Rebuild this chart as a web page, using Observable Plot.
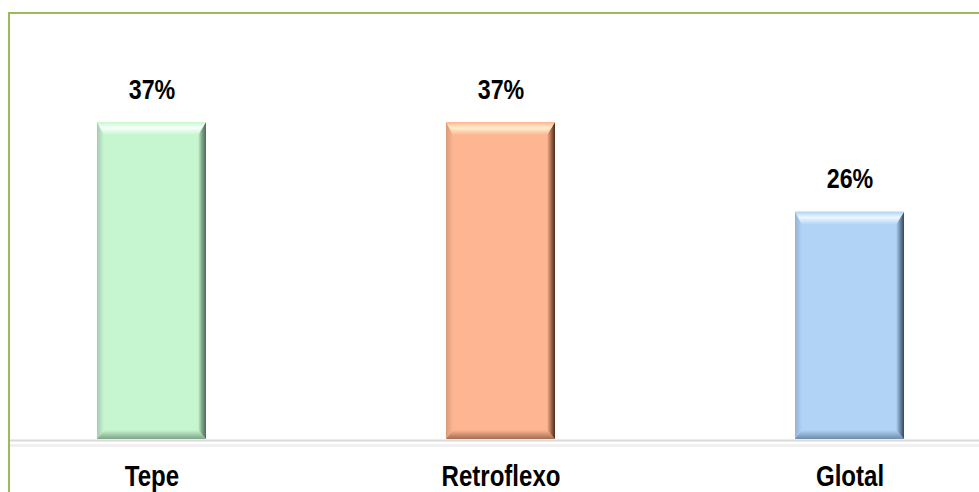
<!DOCTYPE html>
<html>
<head>
<meta charset="utf-8">
<script src="https://cdn.jsdelivr.net/npm/d3@7"></script>
<script src="https://cdn.jsdelivr.net/npm/@observablehq/plot@0.6"></script>
<style>
  html, body { margin: 0; padding: 0; background: #fff; overflow: hidden; }
  #wrap { position: relative; width: 979px; height: 492px; overflow: hidden; }
  #border { position: absolute; left: 8px; top: 12px; width: 2000px; height: 2000px;
            border-top: 2px solid #9bbb59; border-left: 2px solid #9bbb59; pointer-events: none; }
  #chart svg { display: block; }
</style>
</head>
<body>
<div id="wrap"><div id="chart"></div><div id="border"></div></div>
<script>
const categories = ["Tepe", "Retroflexo", "Glotal"];
const values = [36.8, 36.8, 26.4];
const valueLabels = ["37%", "37%", "26%"];

// style palette (per category)
const palette = [
  {main: "#c6f6cf", hi: "#fbfffc", edge: "#a6cbb0", bottom: "#7ea487", dark: "#4f6a55"},
  {main: "#fdb592", hi: "#fff0cc", edge: "#d99a78", bottom: "#a56c4f", dark: "#4a2a1a"},
  {main: "#b1d4f6", hi: "#eef7ff", edge: "#93b3d4", bottom: "#6d8cac", dark: "#384656"}
];

const data = categories.map((c, i) => ({category: c, value: values[i], label: valueLabels[i], idx: i}));
const font = "'Liberation Sans', Arial, sans-serif";
const ns = "http://www.w3.org/2000/svg";

function el(name, attrs) {
  const e = document.createElementNS(ns, name);
  for (const k in attrs) e.setAttribute(k, attrs[k]);
  return e;
}
function grad(defs, id, x2, y2, stops) {
  const g = el("linearGradient", {id, x1: 0, y1: 0, x2, y2});
  stops.forEach(([o, c]) => g.appendChild(el("stop", {offset: o, "stop-color": c})));
  defs.appendChild(g);
}

const bevel = (index, scales) => {
  const {x, y} = scales;
  const bw = x.bandwidth();
  const y0 = y(0);
  const g = el("g", {});
  const defs = el("defs", {});
  g.appendChild(defs);
  data.forEach((d, i) => {
    const p = palette[d.idx];
    grad(defs, "top" + i, 0, 1, [[0, p.main], [0.45, p.hi], [1, p.main]]);
    grad(defs, "right" + i, 1, 0, [[0, p.main], [0.5, p.bottom], [1, p.dark]]);
    grad(defs, "bottom" + i, 0, 1, [[0, p.main], [1, p.bottom]]);
    grad(defs, "left" + i, 1, 0, [[0, p.edge], [1, p.main]]);
    const x0 = x(d.category), x1 = x0 + bw, yt = y(d.value);
    const t = 13, s = 7, r = 8, b = 9;
    const polys = [
      ["left", [[x0, yt], [x0 + s, yt + t], [x0 + s, y0 - b], [x0, y0]]],
      ["bottom", [[x0, y0], [x0 + s, y0 - b], [x1 - r, y0 - b], [x1, y0]]],
      ["right", [[x1, yt], [x1, y0], [x1 - r, y0 - b], [x1 - r, yt + t]]],
      ["top", [[x0, yt], [x1, yt], [x1 - r, yt + t], [x0 + s, yt + t]]]
    ];
    polys.forEach(([k, pts]) => {
      g.appendChild(el("polygon", {points: pts.map(q => q.join(",")).join(" "), fill: `url(#${k}${i})`}));
    });
  });
  return g;
};

const chart = Plot.plot({
  width: 979,
  height: 492,
  marginLeft: 10,
  marginRight: 0,
  marginTop: 0,
  marginBottom: 53,
  style: {background: "transparent", overflow: "visible"},
  x: {domain: categories, range: [21, 979], paddingInner: 0.688, paddingOuter: 0.2146, align: 0.5, axis: null},
  y: {domain: [0, 40], range: [439, 94.5], axis: null},
  marks: [
    Plot.ruleY([0], {stroke: "#f0f0f0", strokeWidth: 3, dy: 6}),
    Plot.ruleY([0], {stroke: "#d9d9d9", strokeWidth: 2, dy: 1}),
    Plot.barY(data, {x: "category", y: "value", fill: d => palette[d.idx].main}),
    bevel,
    Plot.text(data, {x: "category", y: "value", text: "label", dy: -24, lineAnchor: "bottom",
      fontSize: 28, fontWeight: "bold", fontFamily: font, fill: "#000"}),
    Plot.text(data, {x: "category", text: "category", frameAnchor: "bottom", dy: 46, lineAnchor: "bottom",
      fontSize: 29, fontWeight: "bold", fontFamily: font, fill: "#000"})
  ]
});
// emulate a narrow (condensed) typeface by scaling glyphs horizontally around their anchor
chart.querySelectorAll("text").forEach(t => {
  const tr = t.getAttribute("transform") || "";
  t.setAttribute("transform", tr + " scale(0.83,1)");
});
document.getElementById("chart").appendChild(chart);
</script>
</body>
</html>
